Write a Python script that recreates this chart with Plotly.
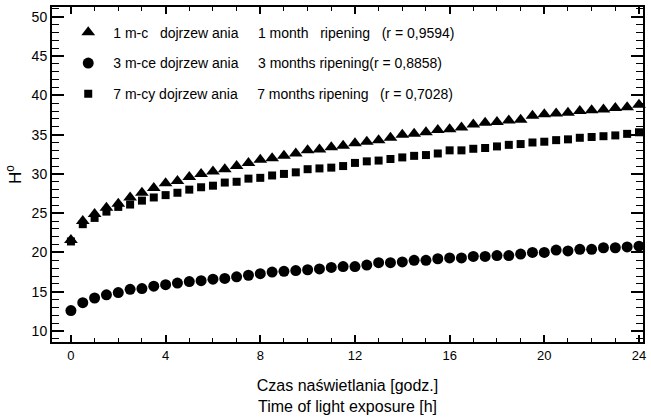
import plotly.graph_objects as go

hours = [0, 0.5, 1, 1.5, 2, 2.5, 3, 3.5, 4, 4.5, 5, 5.5, 6, 6.5, 7, 7.5, 8, 8.5,
         9, 9.5, 10, 10.5, 11, 11.5, 12, 12.5, 13, 13.5, 14, 14.5, 15, 15.5, 16,
         16.5, 17, 17.5, 18, 18.5, 19, 19.5, 20, 20.5, 21, 21.5, 22, 22.5, 23,
         23.5, 24]

ripening_1m = [21.6, 24.0, 24.9, 25.7, 26.2, 27.0, 27.6, 28.2, 28.8, 29.1, 29.6,
               30.0, 30.3, 30.6, 31.0, 31.4, 31.8, 32.0, 32.3, 32.6, 33.0, 33.1,
               33.4, 33.6, 33.9, 34.1, 34.3, 34.6, 35.0, 35.1, 35.3, 35.6, 35.7,
               35.9, 36.3, 36.5, 36.6, 36.8, 36.9, 37.4, 37.6, 37.7, 37.8, 38.0,
               38.1, 38.2, 38.4, 38.5, 38.8]

ripening_3m = [12.6, 13.6, 14.2, 14.6, 14.9, 15.3, 15.4, 15.7, 15.9, 16.1, 16.3,
               16.4, 16.6, 16.7, 16.9, 17.1, 17.3, 17.5, 17.6, 17.7, 17.8, 17.9,
               18.1, 18.2, 18.2, 18.4, 18.7, 18.7, 18.8, 19.0, 19.0, 19.2, 19.3,
               19.3, 19.5, 19.5, 19.6, 19.6, 19.8, 20.0, 20.0, 20.3, 20.2, 20.4,
               20.4, 20.6, 20.6, 20.7, 20.8]

ripening_7m = [21.4, 23.6, 24.4, 25.2, 25.8, 26.1, 26.6, 27.0, 27.3, 27.6, 28.0,
               28.3, 28.5, 28.9, 29.0, 29.4, 29.5, 29.8, 30.0, 30.2, 30.6, 30.7,
               30.8, 31.0, 31.4, 31.6, 31.7, 31.9, 32.1, 32.3, 32.4, 32.6, 33.0,
               33.0, 33.2, 33.3, 33.5, 33.7, 33.8, 34.0, 34.1, 34.3, 34.4, 34.6,
               34.7, 34.8, 34.9, 35.1, 35.3]

names = [
    "1 m-c   dojrzew ania     1 month   ripening   (r = 0,9594)",
    "3 m-ce dojrzew ania     3 months ripening(r = 0,8858)",
    "7 m-cy dojrzew ania     7 months ripening   (r = 0,7028)",
]
names = [n.replace(" ", "\u00a0") for n in names]

x_ticks = [0, 4, 8, 12, 16, 20, 24]
y_ticks = [10, 15, 20, 25, 30, 35, 40, 45, 50]

FONT = "Liberation Sans, Arial, sans-serif"

fig = go.Figure()
series = [
    (ripening_1m, "triangle-up", 12, names[0]),
    (ripening_3m, "circle", 11, names[1]),
    (ripening_7m, "square", 8, names[2]),
]
for i, (vals, sym, sz, nm) in enumerate(series):
    fig.add_trace(go.Scatter(
        x=hours, y=vals, mode="markers", name=nm, legendgroup=f"g{i}",
        marker=dict(symbol=sym, size=sz, color="black", line=dict(width=0)),
        cliponaxis=False,
    ))

axis_common = dict(
    showline=True, linecolor="black", linewidth=2, mirror="allticks",
    ticks="inside", tickcolor="black", showgrid=False, zeroline=False,
)

fig.update_xaxes(
    **axis_common,
    range=[-0.8, 24.17], tickvals=x_ticks, ticklen=7, tickwidth=1.5,
    minor=dict(ticks="inside", dtick=1, ticklen=4, tickcolor="black", tickwidth=1),
    tickfont=dict(family=FONT, size=13, color="black"),
    title=dict(text="Czas naświetlania [godz.]<br>Time of light exposure [h]",
               font=dict(family=FONT, size=16, color="black"), standoff=18),
)
fig.update_yaxes(
    **axis_common,
    range=[8.6, 51.25], tickvals=y_ticks, ticklen=12, tickwidth=1.5,
    minor=dict(ticks="inside", dtick=1, ticklen=7, tickcolor="black", tickwidth=1),
    tickfont=dict(family=FONT, size=14, color="black"),
    title=dict(text="H<sup>o</sup>", font=dict(family=FONT, size=17, color="black"),
               standoff=6),
)

fig.update_layout(
    width=651, height=418,
    margin=dict(l=52, r=8, t=5, b=75),
    paper_bgcolor="white", plot_bgcolor="white",
    font=dict(family=FONT, color="black"),
    showlegend=True,
    legend=dict(
        x=0.019, y=0.971, xanchor="left", yanchor="top",
        bgcolor="rgba(0,0,0,0)", borderwidth=0,
        font=dict(family=FONT, size=14, color="black"),
        itemwidth=40, tracegroupgap=9.5,
    ),
)

fig.write_html("out.html")
